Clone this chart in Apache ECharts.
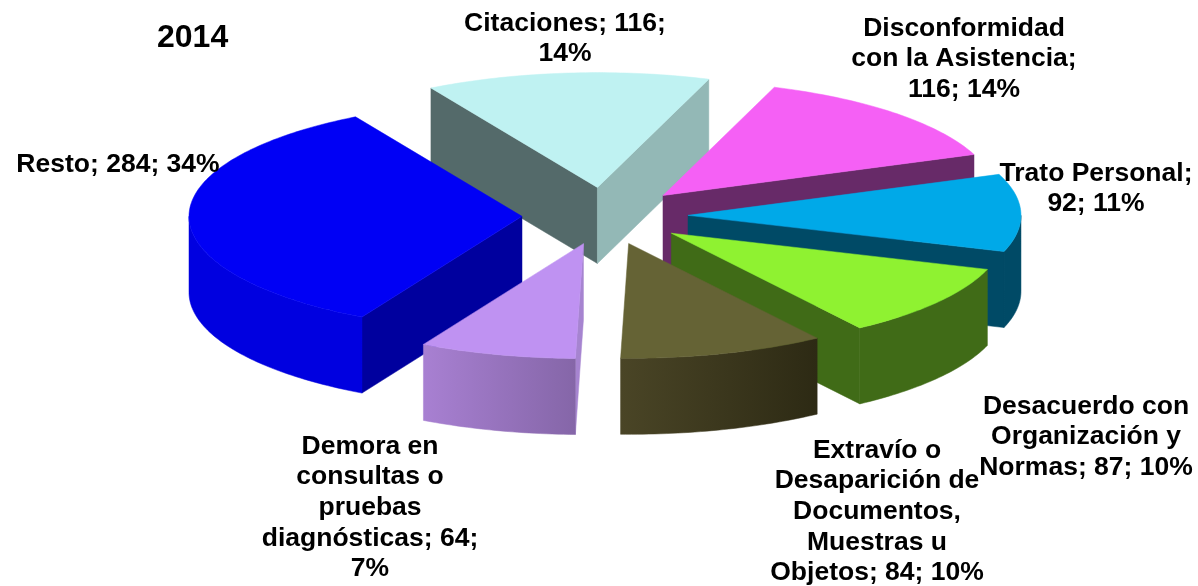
<!DOCTYPE html>
<html>
<head>
<meta charset="utf-8">
<title>2014</title>
<script src="https://cdn.jsdelivr.net/npm/echarts@6/dist/echarts.min.js"></script>
<style>
html, body { margin: 0; padding: 0; background: #fff; }
#main { width: 1198px; height: 586px; }
</style>
</head>
<body>
<div id="main"></div>
<script>
// datos
var categories = ['Citaciones', 'Disconformidad con la Asistencia', 'Trato Personal', 'Desacuerdo con Organización y Normas', 'Extravío o Desaparición de Documentos, Muestras u Objetos', 'Demora en consultas o pruebas diagnósticas', 'Resto'];
var values = [116, 116, 92, 87, 84, 64, 284];
var labelTexts = [
    'Citaciones; 116;\n14%',
    'Disconformidad\ncon la Asistencia;\n116; 14%',
    'Trato Personal;\n92; 11%',
    'Desacuerdo con\nOrganización y\nNormas; 87; 10%',
    'Extravío o\nDesaparición de\nDocumentos,\nMuestras u\nObjetos; 84; 10%',
    'Demora en\nconsultas o\npruebas\ndiagnósticas; 64;\n7%',
    'Resto; 284; 34%'
];
var chartTitle = '2014';

// colores: cara superior, pared inicial, pared final, exterior izq., exterior der.
var topColors = ['#bff2f2', '#f560f5', '#00a9e8', '#8ff231', '#656335', '#bf92f2', '#0000f5'];
var startWall = ['#546a6a', '#672a68', '#004a66', '#406b17', '#4a4526', '#a684d0', '#00009e'];
var endWall = ['#93b8b6', '#672a68', '#004a66', '#406b17', '#4a4526', '#a684d0', '#00009e'];
var outerLeft = ['#93b8b6', '#672a68', '#004a66', '#406b17', '#4a4526', '#a880d2', '#0000e0'];
var outerRight = ['#93b8b6', '#672a68', '#004a66', '#406b17', '#2d2a14', '#8566a8', '#0000e0'];

// posiciones de las etiquetas (centro de x, arriba de y)
var labelX = [565, 964, 1096, 1086, 877, 370, 118];
var labelY = [8, 13, 158, 391, 435, 431, 149];

// geometría de la tarta
var cx = 605, cy = 216;
var radius = 333;
var squash = 0.345;
var explode = 83;
var depth = 76;
var startAngle = -30; // grados desde el norte, sentido horario

var total = values.reduce(function (a, b) { return a + b; }, 0);

function pt(ox, oy, deg, r, h) {
    var a = deg * Math.PI / 180;
    return [ox + r * Math.sin(a), oy - r * Math.cos(a) * squash + h];
}

function wall(ox, oy, deg) {
    var tip = pt(ox, oy, deg, 0, 0), edge = pt(ox, oy, deg, radius, 0);
    return [tip, edge, [edge[0], edge[1] + depth], [tip[0], tip[1] + depth]];
}

var slices = [];
var acc = startAngle;
values.forEach(function (v, i) {
    var sweep = v / total * 360;
    slices.push({ index: i, a0: acc, a1: acc + sweep, mid: acc + sweep / 2 });
    acc += sweep;
});

function buildSlice(s) {
    var i = s.index;
    var off = pt(cx, cy, s.mid, explode, 0);
    var ox = off[0], oy = off[1];
    var children = [];
    function poly(points, fill) {
        children.push({
            type: 'polygon',
            shape: { points: points },
            style: { fill: fill, stroke: fill, lineWidth: 0.5 }
        });
    }
    // paredes radiales, solo las que miran al frente
    if (Math.cos((s.a0 - 90) * Math.PI / 180) < 0) poly(wall(ox, oy, s.a0), startWall[i]);
    if (Math.cos((s.a1 + 90) * Math.PI / 180) < 0) poly(wall(ox, oy, s.a1), endWall[i]);
    // pared exterior: mitad sur de la elipse
    var from = Math.max(s.a0, 90), to = Math.min(s.a1, 270);
    if (to > from) {
        var up = [], down = [];
        for (var d = from; d < to; d += 1) {
            up.push(pt(ox, oy, d, radius, 0));
            down.unshift(pt(ox, oy, d, radius, depth));
        }
        up.push(pt(ox, oy, to, radius, 0));
        down.unshift(pt(ox, oy, to, radius, depth));
        var xs = up.map(function (p) { return p[0]; });
        poly(up.concat(down), new echarts.graphic.LinearGradient(
            Math.min.apply(null, xs), 0, Math.max.apply(null, xs), 0,
            [{ offset: 0, color: outerLeft[i] }, { offset: 1, color: outerRight[i] }],
            true
        ));
    }
    // cara superior
    var face = [pt(ox, oy, s.a0, 0, 0)];
    for (var a = s.a0; a < s.a1; a += 1) face.push(pt(ox, oy, a, radius, 0));
    face.push(pt(ox, oy, s.a1, radius, 0));
    poly(face, topColors[i]);
    return { type: 'group', children: children };
}

// de atrás hacia adelante
var drawOrder = slices.slice().sort(function (p, q) {
    return Math.cos(q.mid * Math.PI / 180) - Math.cos(p.mid * Math.PI / 180);
});

var labelElements = labelTexts.map(function (t, i) {
    return {
        type: 'text',
        x: labelX[i],
        y: labelY[i],
        z: 10,
        style: {
            text: t,
            align: 'center',
            verticalAlign: 'top',
            fill: '#000',
            font: 'bold 26.5px "Liberation Sans", Arial, sans-serif',
            lineHeight: 30.7
        }
    };
});

var chart = echarts.init(document.getElementById('main'));
chart.setOption({
    animation: false,
    backgroundColor: '#fff',
    title: {
        text: chartTitle,
        left: 152,
        top: 17,
        textStyle: { fontFamily: '"Liberation Sans", Arial, sans-serif', fontWeight: 'bold', fontSize: 32, color: '#000' }
    },
    graphic: { elements: labelElements },
    series: [{
        type: 'custom',
        coordinateSystem: 'none',
        silent: true,
        data: drawOrder.map(function (s) { return { name: categories[s.index], value: values[s.index] }; }),
        renderItem: function (params) {
            return buildSlice(drawOrder[params.dataIndex]);
        }
    }]
});
</script>
</body>
</html>
